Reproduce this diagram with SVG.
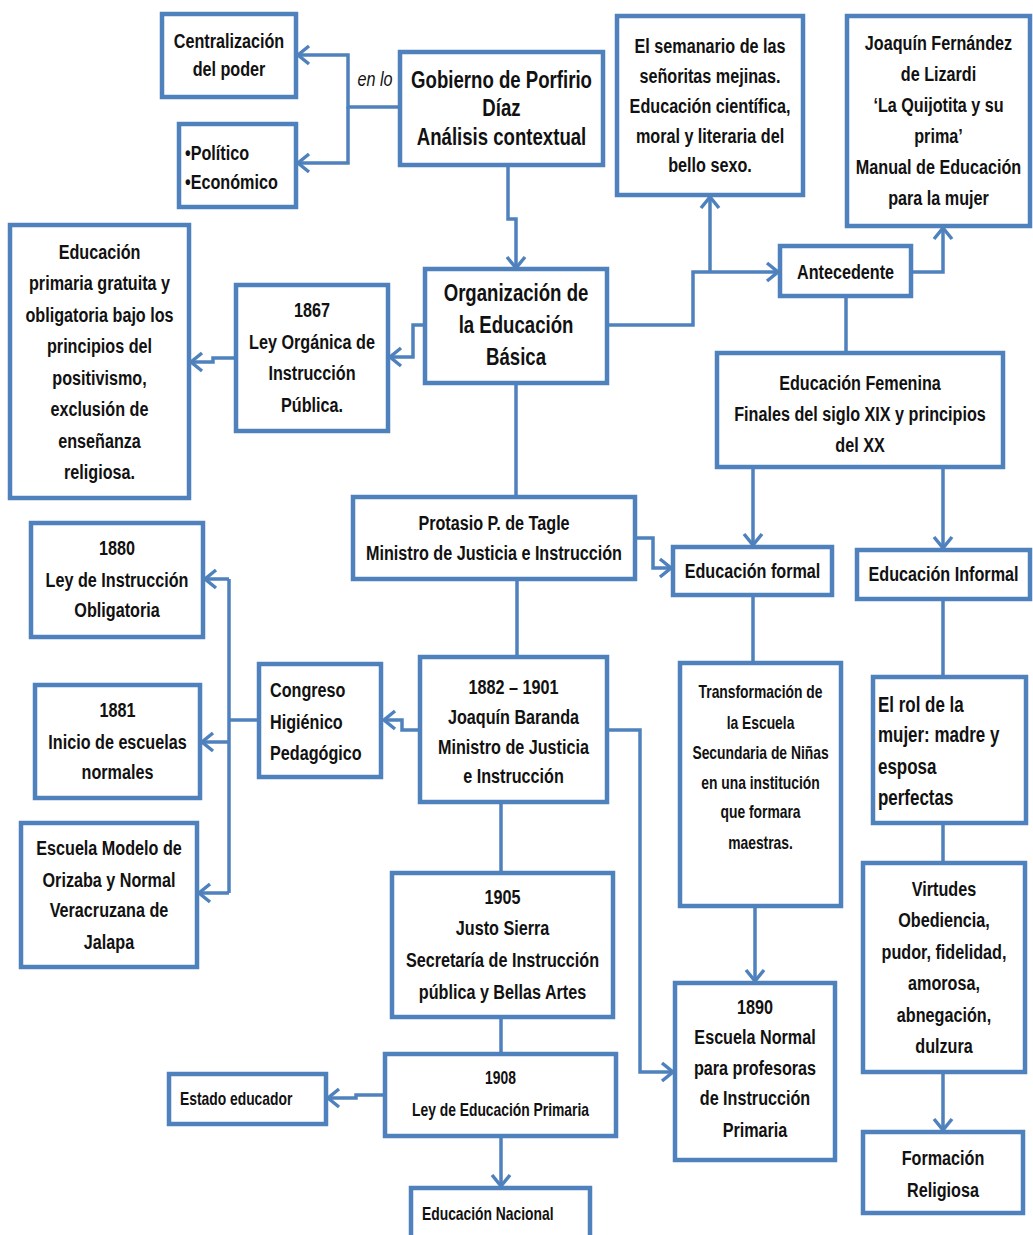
<svg xmlns="http://www.w3.org/2000/svg" width="1033" height="1235" viewBox="0 0 1033 1235">
<defs>
<style>
.box{fill:#fff;stroke:#4F81BD;stroke-width:4.5}
.ln{fill:none;stroke:#4F81BD;stroke-width:3.5;stroke-linejoin:miter}
.ar{marker-end:url(#arr)}
text{font-family:"Liberation Sans",Arial,sans-serif;font-weight:bold;fill:#111;text-anchor:middle}
.t{font-size:21px}
.tt{font-size:24px}
.c{font-size:18px}
.r{font-size:22px}
.l{text-anchor:start}
.it{font-style:italic;font-weight:normal;font-size:21px}
</style>
<marker id="arr" markerUnits="userSpaceOnUse" markerWidth="16" markerHeight="22" viewBox="0 0 16 22" refX="13" refY="11" orient="auto">
<path d="M2,2 L13,11 L2,20" fill="none" stroke="#4F81BD" stroke-width="3.5"/>
</marker>
</defs>
<rect width="1033" height="1235" fill="#fff"/>

<g id="connectors">
<path class="ln ar" d="M400,107 H348 V55 H298"/>
<path class="ln ar" d="M348,107 V163 H298"/>
<path class="ln ar" d="M508,165 V219 H516 V268"/>
<path class="ln ar" d="M425,325 H413 V357 H390"/>
<path class="ln ar" d="M236,358 H213 V362 H191"/>
<path class="ln ar" d="M607,325 H693 V272 H778"/>
<path class="ln ar" d="M710,272 V197"/>
<path class="ln ar" d="M911,272 H943 V228"/>
<path class="ln" d="M846,296 V353"/>
<path class="ln ar" d="M753,467 V545"/>
<path class="ln ar" d="M943,467 V548"/>
<path class="ln" d="M516,383 V497"/>
<path class="ln ar" d="M635,538 H653 V568 H671"/>
<path class="ln" d="M517,579 V657"/>
<path class="ln ar" d="M420,730 H402 V720 H384"/>
<path class="ln" d="M259,720 H229"/>
<path class="ln" d="M229,579 V893"/>
<path class="ln ar" d="M229,579 H205"/>
<path class="ln ar" d="M229,742 H202"/>
<path class="ln ar" d="M229,893 H199"/>
<path class="ln ar" d="M607,730 H640 V1072 H673"/>
<path class="ln" d="M753,595 V663"/>
<path class="ln ar" d="M755,906 V981"/>
<path class="ln" d="M943,599 V677"/>
<path class="ln" d="M943,823 V863"/>
<path class="ln ar" d="M943,1072 V1130"/>
<path class="ln" d="M501,802 V873"/>
<path class="ln" d="M501,1017 V1054"/>
<path class="ln ar" d="M385,1095 H356 V1098 H328"/>
<path class="ln ar" d="M501,1136 V1186"/>
<text class="it" transform="translate(375,0) scale(0.77,1)" x="0" y="86">en lo</text>
</g>

<g id="centralizacion">
<rect class="box" x="162" y="14" width="134" height="83"/>
<text class="t" transform="translate(229,0) scale(0.77,1)"><tspan x="0" y="48">Centralización</tspan><tspan x="0" y="76">del poder</tspan></text>
</g>

<g id="politico">
<rect class="box" x="179" y="124" width="117" height="83"/>
<text class="t l" transform="translate(185,0) scale(0.77,1)"><tspan x="0" y="160">•Político</tspan><tspan x="0" y="189">•Económico</tspan></text>
</g>

<g id="gobierno">
<rect class="box" x="400" y="52" width="203" height="113"/>
<text class="tt" transform="translate(501.5,0) scale(0.775,1)"><tspan x="0" y="88">Gobierno de Porfirio</tspan><tspan x="0" y="116">Díaz</tspan><tspan x="0" y="145">Análisis contextual</tspan></text>
</g>

<g id="semanario">
<rect class="box" x="617" y="16" width="186" height="179"/>
<text class="t" transform="translate(710,0) scale(0.77,1)"><tspan x="0" y="53">El semanario de las</tspan><tspan x="0" y="83">señoritas mejinas.</tspan><tspan x="0" y="113">Educación  científica,</tspan><tspan x="0" y="143">moral y literaria del</tspan><tspan x="0" y="172">bello sexo.</tspan></text>
</g>

<g id="lizardi">
<rect class="box" x="847" y="16" width="183" height="210"/>
<text class="t" transform="translate(938.5,0) scale(0.77,1)"><tspan x="0" y="50">Joaquín Fernández</tspan><tspan x="0" y="81">de Lizardi</tspan><tspan x="0" y="112">‘La Quijotita y su</tspan><tspan x="0" y="143">prima’</tspan><tspan x="0" y="174">Manual de Educación</tspan><tspan x="0" y="205">para la mujer</tspan></text>
</g>

<g id="antecedente">
<rect class="box" x="780" y="246" width="131" height="50"/>
<text class="t" transform="translate(845.5,0) scale(0.77,1)" x="0" y="279">Antecedente</text>
</g>

<g id="organizacion">
<rect class="box" x="425" y="269" width="182" height="114"/>
<text class="tt" transform="translate(516,0) scale(0.775,1)"><tspan x="0" y="301">Organización  de</tspan><tspan x="0" y="333">la Educación</tspan><tspan x="0" y="365">Básica</tspan></text>
</g>

<g id="ley1867">
<rect class="box" x="236" y="285" width="152" height="146"/>
<text class="t" transform="translate(312,0) scale(0.77,1)"><tspan x="0" y="317">1867</tspan><tspan x="0" y="349">Ley Orgánica de</tspan><tspan x="0" y="380">Instrucción</tspan><tspan x="0" y="412">Pública.</tspan></text>
</g>

<g id="primaria-gratuita">
<rect class="box" x="10" y="225" width="179" height="273"/>
<text class="t" transform="translate(99.5,0) scale(0.77,1)"><tspan x="0" y="259">Educación</tspan><tspan x="0" y="290">primaria gratuita y</tspan><tspan x="0" y="322">obligatoria  bajo los</tspan><tspan x="0" y="353">principios del</tspan><tspan x="0" y="385">positivismo,</tspan><tspan x="0" y="416">exclusión  de</tspan><tspan x="0" y="448">enseñanza</tspan><tspan x="0" y="479">religiosa.</tspan></text>
</g>

<g id="femenina">
<rect class="box" x="717" y="353" width="286" height="114"/>
<text class="t" transform="translate(860,0) scale(0.77,1)"><tspan x="0" y="390">Educación  Femenina</tspan><tspan x="0" y="421">Finales del siglo XIX y principios</tspan><tspan x="0" y="452">del XX</tspan></text>
</g>

<g id="protasio">
<rect class="box" x="353" y="497" width="282" height="82"/>
<text class="t" transform="translate(494,0) scale(0.77,1)"><tspan x="0" y="530">Protasio P. de Tagle</tspan><tspan x="0" y="560">Ministro de Justicia  e Instrucción</tspan></text>
</g>

<g id="formal">
<rect class="box" x="673" y="547" width="159" height="48"/>
<text class="t" transform="translate(752.5,0) scale(0.77,1)" x="0" y="578">Educación  formal</text>
</g>

<g id="informal">
<rect class="box" x="857" y="550" width="173" height="49"/>
<text class="t" transform="translate(943.5,0) scale(0.77,1)" x="0" y="581">Educación  Informal</text>
</g>

<g id="ley1880">
<rect class="box" x="31" y="523" width="172" height="114"/>
<text class="t" transform="translate(117,0) scale(0.77,1)"><tspan x="0" y="555">1880</tspan><tspan x="0" y="587">Ley de Instrucción</tspan><tspan x="0" y="617">Obligatoria</tspan></text>
</g>

<g id="escuelas1881">
<rect class="box" x="35" y="685" width="165" height="113"/>
<text class="t" transform="translate(117.5,0) scale(0.77,1)"><tspan x="0" y="717">1881</tspan><tspan x="0" y="749">Inicio de escuelas</tspan><tspan x="0" y="779">normales</tspan></text>
</g>

<g id="congreso">
<rect class="box" x="259" y="664" width="122" height="113"/>
<text class="t l" transform="translate(270,0) scale(0.77,1)"><tspan x="0" y="697">Congreso</tspan><tspan x="0" y="729">Higiénico</tspan><tspan x="0" y="760">Pedagógico</tspan></text>
</g>

<g id="baranda">
<rect class="box" x="420" y="657" width="187" height="145"/>
<text class="t" transform="translate(513.5,0) scale(0.77,1)"><tspan x="0" y="694">1882 – 1901</tspan><tspan x="0" y="724">Joaquín Baranda</tspan><tspan x="0" y="754">Ministro de Justicia</tspan><tspan x="0" y="783">e Instrucción</tspan></text>
</g>

<g id="transformacion">
<rect class="box" x="680" y="663" width="161" height="243"/>
<text class="c" transform="translate(760.5,0) scale(0.77,1)"><tspan x="0" y="698">Transformación de</tspan><tspan x="0" y="729">la Escuela</tspan><tspan x="0" y="759">Secundaria de Niñas</tspan><tspan x="0" y="789">en una institución</tspan><tspan x="0" y="818">que formara</tspan><tspan x="0" y="849">maestras.</tspan></text>
</g>

<g id="rol">
<rect class="box" x="873" y="677" width="153" height="146"/>
<text class="r l" transform="translate(878,0) scale(0.77,1)"><tspan x="0" y="712">El rol de la</tspan><tspan x="0" y="742">mujer: madre y</tspan><tspan x="0" y="774">esposa</tspan><tspan x="0" y="805">perfectas</tspan></text>
</g>

<g id="virtudes">
<rect class="box" x="863" y="863" width="162" height="209"/>
<text class="t" transform="translate(944,0) scale(0.77,1)"><tspan x="0" y="896">Virtudes</tspan><tspan x="0" y="927">Obediencia,</tspan><tspan x="0" y="959">pudor, fidelidad,</tspan><tspan x="0" y="990">amorosa,</tspan><tspan x="0" y="1022">abnegación,</tspan><tspan x="0" y="1053">dulzura</tspan></text>
</g>

<g id="religiosa">
<rect class="box" x="863" y="1132" width="160" height="81"/>
<text class="t" transform="translate(943,0) scale(0.77,1)"><tspan x="0" y="1165">Formación</tspan><tspan x="0" y="1197">Religiosa</tspan></text>
</g>

<g id="normal1890">
<rect class="box" x="675" y="983" width="160" height="177"/>
<text class="t" transform="translate(755,0) scale(0.77,1)"><tspan x="0" y="1014">1890</tspan><tspan x="0" y="1044">Escuela Normal</tspan><tspan x="0" y="1075">para profesoras</tspan><tspan x="0" y="1105">de Instrucción</tspan><tspan x="0" y="1137">Primaria</tspan></text>
</g>

<g id="modelo">
<rect class="box" x="21" y="823" width="176" height="144"/>
<text class="t" transform="translate(109,0) scale(0.77,1)"><tspan x="0" y="855">Escuela Modelo de</tspan><tspan x="0" y="887">Orizaba y  Normal</tspan><tspan x="0" y="917">Veracruzana de</tspan><tspan x="0" y="949">Jalapa</tspan></text>
</g>

<g id="sierra">
<rect class="box" x="392" y="873" width="221" height="144"/>
<text class="t" transform="translate(502.5,0) scale(0.77,1)"><tspan x="0" y="904">1905</tspan><tspan x="0" y="935">Justo Sierra</tspan><tspan x="0" y="967">Secretaría de Instrucción</tspan><tspan x="0" y="999">pública y Bellas Artes</tspan></text>
</g>

<g id="ley1908">
<rect class="box" x="385" y="1054" width="231" height="82"/>
<text class="c" transform="translate(500.5,0) scale(0.77,1)"><tspan x="0" y="1084">1908</tspan><tspan x="0" y="1116">Ley de Educación Primaria</tspan></text>
</g>

<g id="estado">
<rect class="box" x="169" y="1074" width="157" height="50"/>
<text class="c l" transform="translate(180,0) scale(0.77,1)" x="0" y="1105">Estado educador</text>
</g>

<g id="nacional">
<rect class="box" x="411" y="1188" width="179" height="60"/>
<text class="c l" transform="translate(422,0) scale(0.77,1)" x="0" y="1220">Educación Nacional</text>
</g>
</svg>
